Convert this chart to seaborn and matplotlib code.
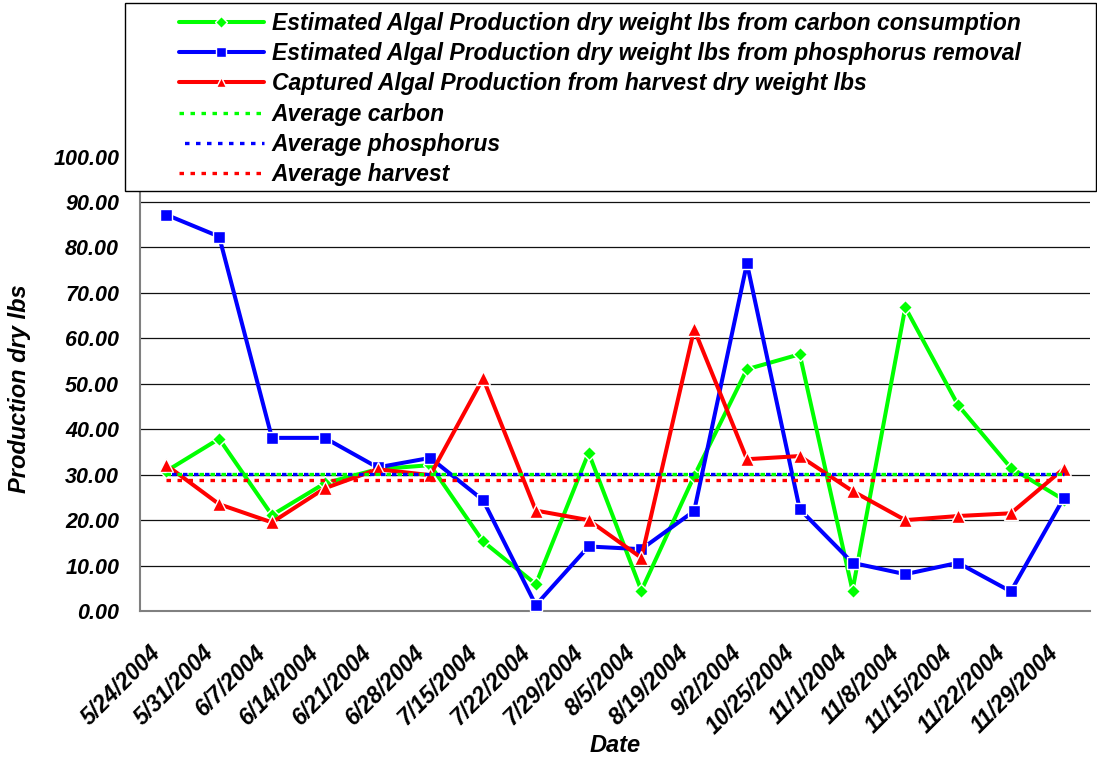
import matplotlib
matplotlib.use("Agg")
import matplotlib.pyplot as plt
from matplotlib.patches import Rectangle
from matplotlib.transforms import ScaledTranslation
import seaborn as sns
import pandas as pd

dates = ["5/24/2004", "5/31/2004", "6/7/2004", "6/14/2004", "6/21/2004", "6/28/2004",
         "7/15/2004", "7/22/2004", "7/29/2004", "8/5/2004", "8/19/2004", "9/2/2004",
         "10/25/2004", "11/1/2004", "11/8/2004", "11/15/2004", "11/22/2004", "11/29/2004"]
carbon = [30.8, 37.9, 21.1, 28.1, 31.2, 32.1, 15.3, 5.9, 34.8, 4.5, 29.7, 53.2,
          56.5, 4.5, 66.8, 45.3, 31.5, 24.5]
phosphorus = [87.2, 82.4, 38.1, 38.1, 31.6, 33.7, 24.4, 1.3, 14.2, 13.6, 22.0, 76.5,
              22.4, 10.6, 8.1, 10.6, 4.3, 24.8]
harvest = [32.1, 23.5, 19.5, 27.0, 31.2, 29.9, 51.2, 22.1, 20.0, 11.7, 62.0, 33.4,
           34.1, 26.4, 20.0, 20.9, 21.5, 31.3]
avg_carbon = 30.1
avg_phosphorus = 30.1
avg_harvest = 28.8

labels = ["Estimated Algal Production dry weight lbs from carbon consumption",
          "Estimated Algal Production dry weight lbs from phosphorus removal",
          "Captured Algal Production from harvest dry weight lbs",
          "Average carbon", "Average phosphorus", "Average harvest"]

sns.set_style("white")
plt.rcParams['font.family'] = ['Liberation Sans', 'DejaVu Sans']
plt.rcParams['font.weight'] = 'bold'
plt.rcParams['font.style'] = 'italic'
for k in ['text.color', 'axes.labelcolor', 'xtick.color', 'ytick.color']:
    plt.rcParams[k] = 'black'

FS_YTICK = 15.5
FS_XTICK = 16.5
FS_LEG = 16.5
FS_LAB = 17
W, H = 1097, 757
fig = plt.figure(figsize=(W / 100, H / 100), dpi=100)
ax_l, ax_r, ax_t, ax_b = 140, 1090, 156.6, 611
ax = fig.add_axes([ax_l / W, (H - ax_b) / H, (ax_r - ax_l) / W, (ax_b - ax_t) / H])

idx = list(range(len(dates)))
df = pd.DataFrame({"idx": idx, "carbon": carbon, "phosphorus": phosphorus, "harvest": harvest,
                   "avg_c": [avg_carbon] * len(idx), "avg_p": [avg_phosphorus] * len(idx),
                   "avg_h": [avg_harvest] * len(idx)})

GREEN, BLUE, RED = "#00FF00", "#0000FF", "#FF0000"
common = dict(linewidth=2.9, markeredgecolor="white", markeredgewidth=1.0)
sns.lineplot(data=df, x="idx", y="carbon", ax=ax, color=GREEN, marker="D", markersize=7.5,
             label=labels[0], zorder=3, **common)
sns.lineplot(data=df, x="idx", y="phosphorus", ax=ax, color=BLUE, marker="s", markersize=8.5,
             label=labels[1], zorder=4, **common)
sns.lineplot(data=df, x="idx", y="harvest", ax=ax, color=RED, marker="^", markersize=9.5,
             label=labels[2], zorder=5, **common)
AVG_LW = 2.4
sns.lineplot(data=df, x="idx", y="avg_c", ax=ax, color=GREEN, linewidth=AVG_LW,
             linestyle=(0, (1.35, 1.95)), label=labels[3], zorder=6)
sns.lineplot(data=df, x="idx", y="avg_p", ax=ax, color=BLUE, linewidth=AVG_LW,
             linestyle=(1.65, (1.35, 1.95)), label=labels[4], zorder=7)
sns.lineplot(data=df, x="idx", y="avg_h", ax=ax, color=RED, linewidth=AVG_LW,
             linestyle=(0, (1.35, 1.95)), label=labels[5], zorder=8)

handles, labs = ax.get_legend_handles_labels()
ax.get_legend().remove()

ax.set_xlim(-0.5, len(dates) - 0.5)
ax.set_ylim(0, 100)
yt = list(range(0, 101, 10))
ax.set_yticks(yt)
ax.set_yticklabels([f"{v:.2f}" for v in yt], fontsize=FS_YTICK, fontweight='bold', fontstyle='italic')
ax.set_xticks(idx)
ax.set_xticklabels(dates, fontsize=FS_XTICK, fontweight='bold', fontstyle='italic')
ax.set_xticks([i - 0.5 for i in range(len(dates) + 1)], minor=True)
ax.tick_params(axis='x', which='major', length=0, pad=27)
ax.tick_params(axis='x', which='minor', length=6, width=1, color='black', direction='out')
ax.tick_params(axis='y', which='major', length=5, width=1, color='black', direction='out', pad=10)
shift = ScaledTranslation(-9 / 100, -1 / 100, fig.dpi_scale_trans)
for t in ax.get_xticklabels():
    t.set_rotation(45)
    t.set_ha('right')
    t.set_va('center')
    t.set_rotation_mode('anchor')
    t.set_transform(t.get_transform() + shift)

ax.yaxis.grid(True, color='#111111', linewidth=0.9)
ax.xaxis.grid(False)
for s in ['top', 'right']:
    ax.spines[s].set_visible(False)
for s in ['left', 'bottom']:
    ax.spines[s].set_color('#808080')
    ax.spines[s].set_linewidth(1.5)

ax.set_xlabel("Date", fontsize=FS_LAB, fontweight='bold', fontstyle='italic')
ax.set_ylabel("Production dry lbs", fontsize=FS_LAB, fontweight='bold', fontstyle='italic')
ax.xaxis.set_label_coords(0.5, -0.27)
ax.yaxis.set_label_coords(-0.115, 0.49)

# legend box
fig.add_artist(Rectangle((125 / W, (H - 191) / H), (1096 - 125) / W, (191 - 3) / H,
                         transform=fig.transFigure, facecolor='white', edgecolor='black',
                         linewidth=1.0, zorder=1))
fig.legend(handles, labs, loc='upper left', bbox_to_anchor=(179 / W, 1 - 12 / H),
           frameon=False, borderpad=0, borderaxespad=0, handlelength=3.7, handletextpad=0.35,
           labelspacing=0.315, markerscale=0.8,
           prop=dict(size=FS_LEG, weight='bold', style='italic'), numpoints=1)

fig.savefig("out.png", dpi=100)
